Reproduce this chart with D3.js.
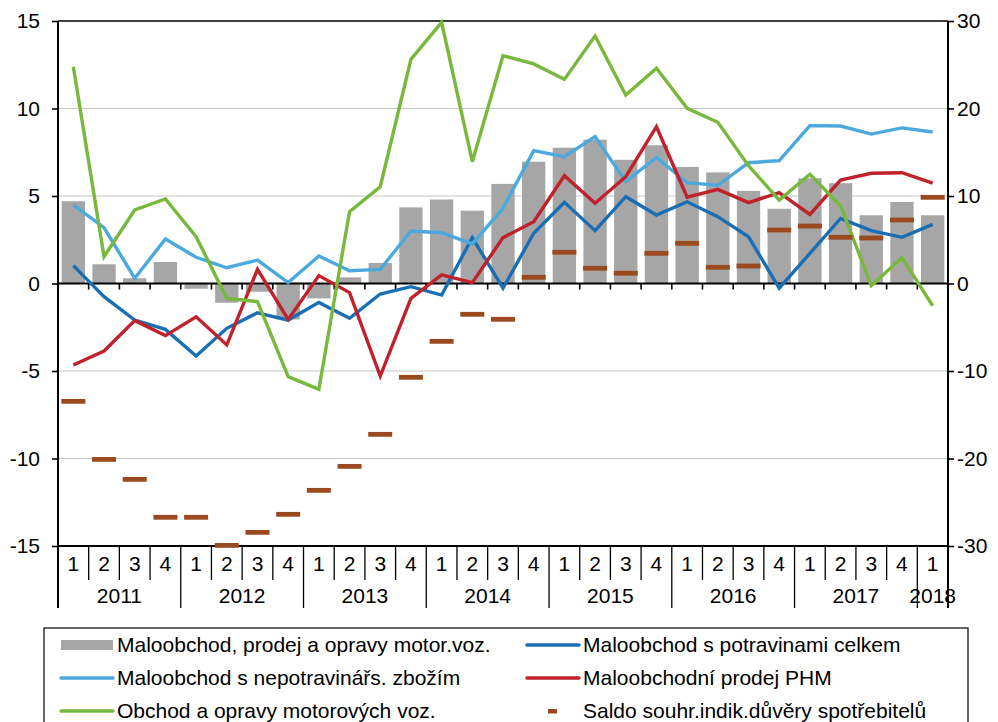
<!DOCTYPE html>
<html>
<head>
<meta charset="utf-8">
<script src="https://cdn.jsdelivr.net/npm/d3@7"></script>
<style>
  body { margin: 0; background: #fff; }
  svg { display: block; font-family: "Liberation Sans", Arial, sans-serif; }
</style>
</head>
<body>
<div id="chart"></div>
<script>
// quarters 2011Q1 .. 2018Q1
const years = ['2011', '2012', '2013', '2014', '2015', '2016', '2017', '2018'];
const quarters = ['1', '2', '3', '4'];
const categories = [];
years.forEach(y => quarters.forEach(q => {
  if (y === '2018' && q !== '1') return;
  categories.push(y + 'Q' + q);
}));

// left axis (%)
const motorRetail = [4.7, 1.1, 0.3, 1.23, -0.3, -1.1, -0.47, -2.05, -0.85, 0.35, 1.17, 4.35, 4.8, 4.16, 5.69, 6.96, 7.76, 8.22, 7.07, 7.9, 6.66, 6.35, 5.29, 4.27, 6.01, 5.73, 3.9, 4.66, 3.9];
const foodRetail = [1.02, -0.75, -2.09, -2.62, -4.14, -2.56, -1.67, -2.09, -1.08, -1.99, -0.6, -0.18, -0.66, 2.62, -0.27, 2.87, 4.64, 3.02, 4.96, 3.91, 4.67, 3.82, 2.67, -0.27, 1.72, 3.72, 3.02, 2.64, 3.38];
const nonFoodRetail = [4.49, 3.19, 0.3, 2.54, 1.5, 0.9, 1.34, 0.05, 1.57, 0.73, 0.81, 3.0, 2.9, 2.26, 4.3, 7.59, 7.25, 8.39, 5.82, 7.21, 5.76, 5.61, 6.9, 7.02, 9.02, 9.0, 8.54, 8.89, 8.66];
const fuelRetail = [-4.66, -3.86, -2.12, -2.98, -1.9, -3.51, 0.81, -2.05, 0.45, -0.52, -5.29, -0.85, 0.49, 0.05, 2.62, 3.53, 6.16, 4.58, 6.1, 8.96, 4.93, 5.38, 4.62, 5.19, 3.95, 5.91, 6.3, 6.33, 5.73];
// right axis
const motorTrade = [24.78, 3.06, 8.4, 9.66, 5.35, -1.69, -2.08, -10.65, -12.09, 8.21, 11.06, 25.62, 29.85, 13.92, 26.03, 25.09, 23.33, 28.29, 21.54, 24.59, 20.02, 18.42, 13.46, 9.54, 12.48, 8.89, -0.25, 2.95, -2.54];
const confidence = [-13.47, -20.1, -22.38, -26.72, -26.72, -29.93, -28.44, -26.38, -23.64, -20.9, -17.24, -10.72, -6.61, -3.52, -4.09, 0.71, 3.57, 1.74, 1.17, 3.45, 4.59, 1.85, 2.0, 6.11, 6.57, 5.28, 5.2, 7.26, 9.85];

const leftTicks = [-15, -10, -5, 0, 5, 10, 15];
const rightTicks = [-30, -20, -10, 0, 10, 20, 30];

const names = {
  motorRetail: 'Maloobchod, prodej a opravy motor.voz.',
  foodRetail: 'Maloobchod s potravinami celkem',
  nonFoodRetail: 'Maloobchod s nepotravinářs. zbožím',
  fuelRetail: 'Maloobchodní prodej PHM',
  motorTrade: 'Obchod a opravy motorových voz.',
  confidence: 'Saldo souhr.indik.důvěry spotřebitelů'
};
const colors = {
  bar: '#a6a6a6',
  foodRetail: '#1a6fb4',
  nonFoodRetail: '#4ba9de',
  fuelRetail: '#c0222c',
  motorTrade: '#78b83d',
  confidence: '#9b4a1f'
};

const width = 998, height = 722;
const plotLeft = 58, plotRight = 948, plotTop = 21, plotBottom = 546;
const fontSize = 21;

const svg = d3.select('#chart').append('svg')
  .attr('width', width)
  .attr('height', height);

const x = d3.scaleBand()
  .domain(categories)
  .range([plotLeft, plotRight])
  .paddingInner(0.24)
  .paddingOuter(0.12);
const step = x.step();
const cx = d => x(d) + x.bandwidth() / 2;

const yL = d3.scaleLinear().domain([-15, 15]).range([plotBottom, plotTop]);
const yR = d3.scaleLinear().domain([-30, 30]).range([plotBottom, plotTop]);

// gridlines
svg.append('g')
  .selectAll('line')
  .data(leftTicks.filter(t => t !== 0 && Math.abs(t) !== 15))
  .join('line')
  .attr('x1', plotLeft).attr('x2', plotRight)
  .attr('y1', d => yL(d)).attr('y2', d => yL(d))
  .attr('stroke', '#c6c6c6')
  .attr('stroke-width', 1.2);

// bars
svg.append('g')
  .selectAll('rect')
  .data(categories)
  .join('rect')
  .attr('x', d => x(d))
  .attr('width', x.bandwidth())
  .attr('y', (d, i) => Math.min(yL(0), yL(motorRetail[i])))
  .attr('height', (d, i) => Math.abs(yL(motorRetail[i]) - yL(0)))
  .attr('fill', colors.bar);

// frame
svg.append('line')
  .attr('x1', plotLeft).attr('x2', plotRight)
  .attr('y1', plotTop).attr('y2', plotTop)
  .attr('stroke', '#000').attr('stroke-width', 1.6);

// axes (plain hyphen for negatives, like the original)
const fmt = d => String(d);
const axisL = d3.axisLeft(yL).tickValues(leftTicks).tickFormat(fmt).tickSize(6).tickPadding(12);
const gL = svg.append('g').attr('transform', `translate(${plotLeft},0)`).call(axisL);
const axisR = d3.axisRight(yR).tickValues(rightTicks).tickFormat(fmt).tickSize(6).tickPadding(3);
const gR = svg.append('g').attr('transform', `translate(${plotRight},0)`).call(axisR);
[gL, gR].forEach(g => {
  g.select('.domain').remove();
  g.selectAll('line').attr('stroke', '#000').attr('stroke-width', 1.6);
  g.selectAll('text')
    .attr('font-size', fontSize)
    .attr('font-family', '"Liberation Sans", Arial, sans-serif')
    .attr('fill', '#000');
});

// vertical axis lines, extending into the category table
svg.append('line')
  .attr('x1', plotLeft).attr('x2', plotLeft)
  .attr('y1', plotTop).attr('y2', 608)
  .attr('stroke', '#000').attr('stroke-width', 2);
svg.append('line')
  .attr('x1', plotRight).attr('x2', plotRight)
  .attr('y1', plotTop).attr('y2', 608)
  .attr('stroke', '#000').attr('stroke-width', 2);

// bottom line at -15
svg.append('line')
  .attr('x1', plotLeft).attr('x2', plotRight)
  .attr('y1', plotBottom).attr('y2', plotBottom)
  .attr('stroke', '#000').attr('stroke-width', 2);

// category table under the plot
const boundaries = d3.range(1, categories.length).map(i => plotLeft + step * i);
svg.append('g')
  .selectAll('line')
  .data(boundaries)
  .join('line')
  .attr('x1', d => d).attr('x2', d => d)
  .attr('y1', plotBottom)
  .attr('y2', (d, i) => ((i + 1) % 4 === 0) ? 608 : 580)
  .attr('stroke', '#000').attr('stroke-width', 1.3);

svg.append('g')
  .selectAll('text')
  .data(categories)
  .join('text')
  .attr('x', d => cx(d))
  .attr('y', 571)
  .attr('text-anchor', 'middle')
  .attr('font-size', fontSize)
  .text(d => d.slice(5));

svg.append('g')
  .selectAll('text')
  .data(years)
  .join('text')
  .attr('x', d => {
    const qs = categories.filter(c => c.startsWith(d));
    const pad = (step - x.bandwidth()) / 2;
    return (x(qs[0]) - pad + x(qs[qs.length - 1]) + x.bandwidth() + pad) / 2;
  })
  .attr('y', 603)
  .attr('text-anchor', 'middle')
  .attr('font-size', fontSize)
  .text(d => d);

// lines
const lineL = d3.line().x((d, i) => cx(categories[i])).y(d => yL(d));
const lineR = d3.line().x((d, i) => cx(categories[i])).y(d => yR(d));

const series = [
  { data: foodRetail, color: colors.foodRetail, gen: lineL },
  { data: nonFoodRetail, color: colors.nonFoodRetail, gen: lineL },
  { data: fuelRetail, color: colors.fuelRetail, gen: lineL },
  { data: motorTrade, color: colors.motorTrade, gen: lineR }
];

// zero line with downward ticks at category boundaries
svg.append('line')
  .attr('x1', plotLeft).attr('x2', plotRight)
  .attr('y1', yL(0)).attr('y2', yL(0))
  .attr('stroke', '#000').attr('stroke-width', 2);
svg.append('g')
  .selectAll('line')
  .data(boundaries)
  .join('line')
  .attr('x1', d => d).attr('x2', d => d)
  .attr('y1', yL(0)).attr('y2', yL(0) + 6)
  .attr('stroke', '#000').attr('stroke-width', 1.6);

series.forEach(s => {
  svg.append('path')
    .datum(s.data)
    .attr('d', s.gen)
    .attr('fill', 'none')
    .attr('stroke', s.color)
    .attr('stroke-width', 3.4)
    .attr('stroke-linejoin', 'miter');
});

// confidence dashes
svg.append('g')
  .selectAll('rect')
  .data(confidence)
  .join('rect')
  .attr('x', (d, i) => cx(categories[i]) - 12)
  .attr('width', 24)
  .attr('y', d => yR(d) - 2.4)
  .attr('height', 4.8)
  .attr('fill', colors.confidence);

// legend
const legend = svg.append('g');
legend.append('rect')
  .attr('x', 44).attr('y', 628)
  .attr('width', 924).attr('height', 110)
  .attr('fill', '#fff')
  .attr('stroke', '#000').attr('stroke-width', 1.2);

const legendItems = [
  { key: 'motorRetail', type: 'bar', col: 0, row: 0 },
  { key: 'foodRetail', type: 'line', col: 1, row: 0 },
  { key: 'nonFoodRetail', type: 'line', col: 0, row: 1 },
  { key: 'fuelRetail', type: 'line', col: 1, row: 1 },
  { key: 'motorTrade', type: 'line', col: 0, row: 2 },
  { key: 'confidence', type: 'dash', col: 1, row: 2 }
];
const colX = [61, 527];
const rowY = [645, 678, 711];

legendItems.forEach(it => {
  const x0 = colX[it.col];
  const y0 = rowY[it.row];
  if (it.type === 'bar') {
    legend.append('rect')
      .attr('x', x0).attr('y', y0 - 5)
      .attr('width', 52).attr('height', 10)
      .attr('fill', colors.bar);
  } else if (it.type === 'line') {
    legend.append('line')
      .attr('x1', x0).attr('x2', x0 + 52)
      .attr('y1', y0).attr('y2', y0)
      .attr('stroke', colors[it.key])
      .attr('stroke-width', 3.4)
      .attr('stroke-linecap', 'round');
  } else {
    legend.append('rect')
      .attr('x', x0 + 21).attr('y', y0 - 2)
      .attr('width', 9).attr('height', 4.5)
      .attr('fill', colors.confidence);
  }
  legend.append('text')
    .attr('x', x0 + 56)
    .attr('y', y0)
    .attr('dy', '0.35em')
    .attr('font-size', fontSize)
    .text(names[it.key]);
});
</script>
</body>
</html>
